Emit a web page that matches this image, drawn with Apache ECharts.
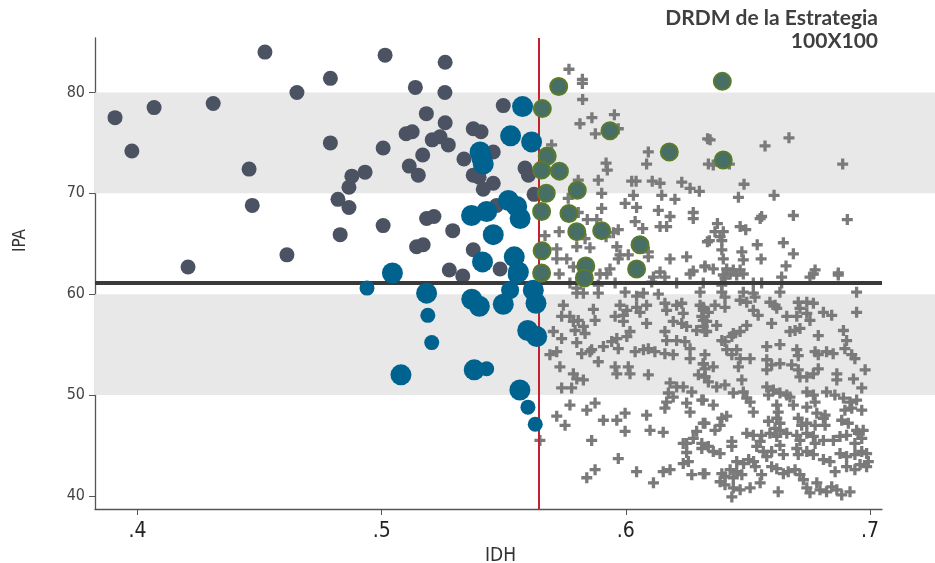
<!DOCTYPE html>
<html><head><meta charset="utf-8">
<script src="https://cdn.jsdelivr.net/npm/echarts@6/dist/echarts.min.js"></script>
<style>html,body{margin:0;padding:0;background:#fff}#c{width:935px;height:563px}</style>
</head><body><div id="c"></div>
<script>
const xTicks=[0.4,0.5,0.6,0.7];
const yTicks=[40,50,60,70,80];
const bands=[[50,60],[70,80]];
const meanIPA=61.1;
const cutIDH=0.5645;
const xRange=[0.3826,0.7049];
const yRange=[38.7,85.4];
const titleLines=['DRDM de la Estrategia','100X100'];

const darkPts=[[0.3908,77.5],[0.3977,74.2],[0.4068,78.5],[0.4207,62.7],[0.4310,78.9],[0.4457,72.4],[0.4470,68.8],[0.4522,84.0],[0.4612,63.9],[0.4653,80.0],[0.4790,81.4],[0.4790,75.0],[0.4821,69.4],[0.4830,65.9],[0.4878,71.7],[0.4932,72.1],[0.4866,70.6],[0.4866,68.6],[0.5006,74.5],[0.5014,83.7],[0.5006,66.8],[0.5138,80.5],[0.5259,80.0],[0.5260,83.0],[0.5498,78.7],[0.5183,77.9],[0.5260,77.0],[0.5100,75.9],[0.5125,76.1],[0.5207,75.3],[0.5239,75.6],[0.5273,74.8],[0.5375,76.4],[0.5407,76.1],[0.5168,73.8],[0.5337,73.4],[0.5457,74.1],[0.5113,72.7],[0.5150,71.8],[0.5375,71.8],[0.5399,71.6],[0.5457,71.0],[0.5416,70.4],[0.5587,72.5],[0.5601,71.8],[0.5624,69.9],[0.5471,68.8],[0.5184,67.5],[0.5214,67.7],[0.5291,66.3],[0.5143,64.7],[0.5170,64.9],[0.5375,64.4],[0.5277,62.4],[0.5332,61.8],[0.5485,62.5]];

const bluePts=[[0.5577,78.6,3],[0.5528,75.7,3],[0.5614,75.1,3],[0.5403,74.1,3],[0.5410,73.5,3],[0.5416,72.9,3],[0.5368,67.8,3],[0.5430,68.2,3],[0.5519,69.3,3],[0.5553,68.7,3],[0.5567,67.5,3],[0.5457,65.9,3],[0.5413,63.2,3],[0.5543,63.7,3],[0.5044,62.1,3],[0.5560,62.2,3],[0.5184,60.1,3],[0.5189,57.9,1],[0.5205,55.2,1],[0.5079,52.0,3],[0.5369,59.5,3],[0.5400,58.8,3],[0.5498,59.0,3],[0.5526,60.4,2],[0.5553,61.9,2],[0.5621,60.4,3],[0.5632,59.1,3],[0.5598,56.4,3],[0.5635,55.8,3],[0.5379,52.5,3],[0.5430,52.6,1],[0.5566,50.5,3],[0.5599,48.8,1],[0.5629,47.1,1],[0.4940,60.6,1]];

const greenPts=[[0.5725,80.6],[0.5658,78.4],[0.5935,76.2],[0.6178,74.1],[0.5678,73.7],[0.5655,72.3],[0.5728,72.2],[0.5801,70.3],[0.5674,70.0],[0.5655,68.2],[0.5767,68.0],[0.5799,66.2],[0.5901,66.3],[0.6058,64.9],[0.5657,64.3],[0.5836,62.8],[0.6044,62.5],[0.5655,62.1],[0.5830,61.6],[0.6395,81.1],[0.6399,73.3]];

const plusPts=[[0.5767,82.3],[0.5822,81.3],[0.5822,80.9],[0.5823,79.3],[0.5812,76.9],[0.5861,77.5],[0.5953,77.8],[0.5875,75.9],[0.5969,76.4],[0.5696,74.8],[0.6092,74.1],[0.6085,72.9],[0.6335,75.4],[0.5919,73.0],[0.5924,72.3],[0.6338,72.9],[0.5805,71.3],[0.5887,71.3],[0.6024,71.2],[0.6042,71.2],[0.6108,71.2],[0.6140,71.0],[0.6229,71.1],[0.6263,70.5],[0.6301,70.2],[0.5764,69.5],[0.5901,70.0],[0.6031,69.8],[0.6147,69.8],[0.6201,69.4],[0.5901,68.5],[0.5997,69.0],[0.6044,68.6],[0.6133,68.3],[0.6181,67.7],[0.6276,68.1],[0.6276,67.5],[0.5805,68.1],[0.5842,67.4],[0.5881,67.4],[0.6038,67.2],[0.6069,66.5],[0.6140,66.7],[0.6167,66.7],[0.5969,66.4],[0.5949,66.1],[0.5669,65.8],[0.5727,66.2],[0.5833,65.5],[0.5919,65.7],[0.5799,64.7],[0.5853,64.6],[0.5963,64.7],[0.5717,64.5],[0.6092,64.2],[0.6092,63.7],[0.5976,63.9],[0.6010,63.9],[0.5969,63.5],[0.6181,63.5],[0.6249,63.7],[0.6334,65.2],[0.5717,63.5],[0.5758,63.5],[0.5785,62.7],[0.5846,62.5],[0.5935,62.5],[0.6140,62.2],[0.6324,62.8],[0.6276,62.3],
[0.6345,75.3],[0.6570,74.7],[0.6668,75.5],[0.6888,72.9],[0.6358,72.8],[0.6424,72.9],[0.6484,70.9],[0.6461,69.6],[0.6607,69.8],[0.6556,67.7],[0.6550,67.5],[0.6686,67.8],[0.6907,67.4],[0.6375,67.0],[0.6365,66.2],[0.6399,66.2],[0.6386,65.7],[0.6468,66.7],[0.6491,66.4],[0.6342,65.3],[0.6393,65.3],[0.6538,64.9],[0.6645,65.1],[0.6475,64.2],[0.6686,64.0],[0.6393,64.4],[0.6399,63.5],[0.6481,63.4],[0.6554,63.5],[0.6656,62.8],[0.6324,62.7],[0.6358,62.5],[0.6413,62.5],[0.6440,62.4],[0.6468,62.4],[0.6775,62.4],[0.6870,62.1],
[0.5727,62.0],[0.5894,62.0],[0.5922,62.0],[0.6113,61.7],[0.6160,61.7],[0.6263,62.0],[0.5771,61.1],[0.5799,60.6],[0.5826,60.1],[0.5799,60.1],[0.5887,60.9],[0.5887,60.1],[0.5956,61.1],[0.5997,60.2],[0.6044,59.8],[0.6072,60.1],[0.6133,60.0],[0.6106,61.2],[0.6208,61.1],[0.6304,60.2],[0.6317,61.1],[0.5744,58.9],[0.5867,58.5],[0.5976,58.9],[0.6004,58.4],[0.5990,57.9],[0.6044,58.7],[0.6085,58.9],[0.6058,58.2],[0.6160,59.1],[0.6167,58.4],[0.6208,58.9],[0.6229,59.1],[0.6235,58.1],[0.6304,58.9],[0.6317,58.4],[0.5737,57.8],[0.5771,57.8],[0.5785,57.3],[0.5805,57.4],[0.5792,56.4],[0.5826,56.8],[0.5833,56.1],[0.5874,57.4],[0.5956,57.8],[0.5990,57.3],[0.6017,56.3],[0.6004,55.8],[0.6085,57.1],[0.6194,57.3],[0.6229,57.1],[0.6249,56.8],[0.6290,56.4],[0.6317,57.4],[0.6324,56.3],[0.5703,56.3],[0.5737,55.6],[0.5799,55.2],[0.5860,54.5],[0.5853,54.3],[0.5908,54.8],[0.5942,55.3],[0.5963,55.6],[0.5969,54.6],[0.6038,54.3],[0.6072,54.5],[0.6092,54.6],[0.6119,54.3],[0.6160,56.3],[0.6167,55.4],[0.6208,55.4],[0.6242,55.3],[0.6263,54.6],[0.6160,54.1],[0.6194,54.0],[0.6263,53.6],[0.5689,54.0],[0.5717,54.3],[0.5819,54.1],[0.5887,53.3],[0.6324,54.0],[0.6317,53.1],[0.5730,52.8],[0.5956,52.8],[0.5963,52.1],[0.6010,52.8],[0.6017,52.1],[0.6092,52.0],[0.5785,52.1],[0.5799,51.6],[0.5826,51.5],[0.5737,50.7],[0.5778,50.7],[0.6181,51.2],[0.6208,50.8],[0.6235,50.8],[0.6174,50.2],[0.6270,50.3],[0.6297,52.0],[0.6324,51.8],[0.6194,49.8],[0.6167,49.3],[0.6160,48.7],[0.6249,49.2],[0.6263,48.3],[0.6311,49.5],[0.5771,49.0],[0.5840,48.5],[0.5874,49.2],[0.5717,47.9],[0.5751,47.0],[0.5908,47.5],[0.5963,47.5],[0.5997,48.2],[0.6085,48.0],[0.5997,46.4],[0.6099,46.5],[0.6153,46.3],[0.6317,47.2],[0.6290,46.4],[0.6276,45.7],[0.6249,45.2],[0.6235,45.2],[0.6311,44.7],[0.5648,45.5],[0.5860,45.5],[0.6249,44.3],[0.6235,43.2],[0.6256,43.4],[0.5969,43.7],[0.5874,42.6],[0.5840,41.8],[0.6044,42.4],[0.6153,42.4],[0.6181,42.6],[0.6113,41.3],[0.6270,42.1],[0.6317,42.2],
[0.6399,61.9],[0.6427,62.0],[0.6454,61.9],[0.6481,62.0],[0.6406,61.6],[0.6638,61.7],[0.6768,62.0],[0.6754,61.7],[0.6870,61.9],[0.6393,60.9],[0.6522,61.1],[0.6556,61.1],[0.6638,61.1],[0.6393,60.2],[0.6406,59.7],[0.6481,60.2],[0.6522,60.1],[0.6529,59.7],[0.6631,60.2],[0.6945,60.2],[0.6468,59.4],[0.6495,59.2],[0.6590,59.2],[0.6611,58.9],[0.6706,59.2],[0.6741,59.2],[0.6768,59.1],[0.6713,58.6],[0.6317,58.7],[0.6338,58.2],[0.6311,57.8],[0.6331,57.3],[0.6365,58.9],[0.6406,58.7],[0.6522,58.4],[0.6542,57.9],[0.6618,58.6],[0.6659,57.8],[0.6700,57.8],[0.6741,58.1],[0.6754,57.4],[0.6809,58.2],[0.6843,57.9],[0.6945,58.2],[0.6317,56.8],[0.6331,56.3],[0.6372,56.9],[0.6440,56.1],[0.6468,56.3],[0.6495,56.9],[0.6597,57.1],[0.6672,56.3],[0.6693,56.4],[0.6713,56.6],[0.6788,55.9],[0.6891,56.4],[0.6904,55.4],[0.6393,55.4],[0.6406,55.3],[0.6434,55.8],[0.6413,54.5],[0.6454,54.5],[0.6434,54.0],[0.6577,54.8],[0.6631,55.0],[0.6700,54.5],[0.6706,53.9],[0.6775,54.3],[0.6788,54.0],[0.6822,54.3],[0.6849,54.1],[0.6897,54.6],[0.6925,54.0],[0.6938,53.6],[0.6317,53.1],[0.6358,52.8],[0.6324,52.6],[0.6468,53.6],[0.6509,53.6],[0.6461,52.8],[0.6577,53.5],[0.6597,53.0],[0.6631,53.1],[0.6679,53.0],[0.6577,52.5],[0.6706,52.5],[0.6713,51.8],[0.6741,51.8],[0.6768,52.1],[0.6788,52.6],[0.6864,52.1],[0.6864,51.5],[0.6932,51.6],[0.6980,52.5],[0.6324,51.8],[0.6338,51.3],[0.6372,50.8],[0.6406,51.0],[0.6475,51.5],[0.6440,50.2],[0.6481,50.3],[0.6495,49.7],[0.6509,49.3],[0.6577,50.8],[0.6604,50.5],[0.6584,50.0],[0.6631,50.2],[0.6659,50.0],[0.6672,49.8],[0.6741,50.3],[0.6768,50.0],[0.6775,49.3],[0.6741,48.8],[0.6822,50.3],[0.6856,50.0],[0.6891,49.7],[0.6918,49.3],[0.6945,49.5],[0.6966,50.7],[0.6317,49.5],[0.6358,49.0],[0.6522,48.3],[0.6618,49.0],[0.6624,48.3],[0.6686,49.0],[0.6782,48.2],[0.6816,48.0],[0.6897,48.5],[0.6925,48.7],[0.6966,48.5],[0.6324,47.2],[0.6393,47.7],[0.6413,47.9],[0.6386,47.0],[0.6365,46.5],[0.6584,47.4],[0.6618,47.7],[0.6631,47.2],[0.6611,46.7],[0.6631,46.5],[0.6706,47.7],[0.6720,47.0],[0.6741,47.2],[0.6775,47.0],[0.6809,47.7],[0.6816,47.0],[0.6884,47.5],[0.6911,47.2],[0.6945,46.5],[0.6972,46.5],[0.6495,46.2],[0.6522,46.0],[0.6556,46.0],[0.6590,46.2],[0.6618,45.9],[0.6550,45.4],[0.6659,46.2],[0.6700,46.0],[0.6713,45.5],[0.6741,46.2],[0.6768,45.9],[0.6775,45.2],[0.6809,45.5],[0.6850,45.5],[0.6877,45.9],[0.6904,46.0],[0.6938,45.2],[0.6966,45.7],[0.6952,46.2],[0.6311,45.2],[0.6338,44.9],[0.6358,44.4],[0.6386,44.2],[0.6434,45.4],[0.6434,44.9],[0.6536,44.9],[0.6563,44.4],[0.6577,43.9],[0.6597,44.4],[0.6631,45.0],[0.6645,44.1],[0.6700,44.7],[0.6706,44.1],[0.6741,44.4],[0.6768,44.1],[0.6809,43.6],[0.6836,43.4],[0.6877,44.2],[0.6904,43.9],[0.6938,44.1],[0.6966,44.4],[0.6986,44.2],[0.6454,43.4],[0.6482,43.2],[0.6503,43.6],[0.6523,43.4],[0.6530,42.9],[0.6324,42.2],[0.6393,42.2],[0.6406,41.9],[0.6427,42.6],[0.6440,41.8],[0.6454,42.4],[0.6475,42.1],[0.6386,41.4],[0.6406,41.1],[0.6440,40.8],[0.6434,39.9],[0.6468,40.6],[0.6509,40.8],[0.6550,41.3],[0.6556,42.1],[0.6597,42.9],[0.6618,42.7],[0.6645,42.2],[0.6665,42.4],[0.6693,42.6],[0.6713,42.1],[0.6624,40.4],[0.6727,41.6],[0.6741,40.8],[0.6754,40.3],[0.6782,41.3],[0.6795,40.6],[0.6822,40.4],[0.6843,40.9],[0.6864,40.6],[0.6884,40.1],[0.6918,40.4],[0.6857,42.4],[0.6904,42.9],[0.6938,42.6],[0.6959,43.1],[0.6986,42.9],[0.6993,43.4]];

const narrow='"Liberation Sans Narrow","DejaVu Sans Condensed","Arial Narrow",sans-serif';
const blueSize={1:15,2:18,3:21};
const plusPath='path://M3.5,0H6.5V3.5H10V6.5H6.5V10H3.5V6.5H0V3.5H3.5Z';
const titleFont={fontFamily:'Lato,"DejaVu Sans",sans-serif',fontWeight:'bold',fontSize:21,color:'#3f3f3f'};

const chart=echarts.init(document.getElementById('c'),null,{renderer:'canvas'});
chart.setOption({
  animation:false,
  backgroundColor:'#fff',
  title:titleLines.map((t,i)=>({text:t,right:57,top:8+i*23,padding:0,textStyle:titleFont})),
  grid:[
    {left:95,right:0,top:38,bottom:54,outerBoundsMode:'none',containLabel:false},
    {left:95,right:53,top:38,bottom:54,outerBoundsMode:'none',containLabel:false}
  ],
  xAxis:[
    {gridIndex:0,type:'value',min:xRange[0],max:xRange[1],show:false},
    {gridIndex:1,type:'value',min:xRange[0],max:xRange[1],
      name:'IDH',nameLocation:'middle',nameGap:33,
      nameTextStyle:{fontFamily:narrow,fontSize:19,color:'#333',padding:[0,0,0,24]},
      axisLine:{show:true,lineStyle:{color:'#555',width:1.3}},
      axisTick:{show:true,length:6,customValues:xTicks,lineStyle:{color:'#555'}},
      axisLabel:{customValues:xTicks,margin:12,fontFamily:narrow,fontSize:21,color:'#222',
        formatter:v=>String(+v.toFixed(1)).replace(/^0/,'')},
      splitLine:{show:false}}
  ],
  yAxis:[
    {gridIndex:0,type:'value',min:yRange[0],max:yRange[1],show:false},
    {gridIndex:1,type:'value',min:yRange[0],max:yRange[1],
      name:'IPA',nameLocation:'middle',nameGap:66,nameRotate:90,
      nameTextStyle:{fontFamily:narrow,fontSize:17,color:'#333',padding:[0,0,0,66]},
      axisLine:{show:true,lineStyle:{color:'#555',width:1.3}},
      axisTick:{show:true,length:6,customValues:yTicks,lineStyle:{color:'#555'}},
      axisLabel:{customValues:yTicks,margin:10,fontFamily:narrow,fontSize:16,color:'#444'},
      splitLine:{show:false}}
  ],
  series:[
    {type:'line',xAxisIndex:0,yAxisIndex:0,data:[],z:0,silent:true,
      markArea:{silent:true,itemStyle:{color:'#e8e8e8'},
        data:bands.map(b=>[{yAxis:b[0]},{yAxis:b[1]}])}},
    {type:'line',xAxisIndex:1,yAxisIndex:1,data:[],z:1,silent:true,
      markLine:{silent:true,precision:4,symbol:['none','none'],label:{show:false},
        data:[
          {yAxis:meanIPA,lineStyle:{color:'#3a3a3a',width:4,type:'solid'}},
          {xAxis:cutIDH,lineStyle:{color:'#c4202f',width:2,type:'solid'}}
        ]}},
    {type:'scatter',xAxisIndex:1,yAxisIndex:1,z:3,data:plusPts,symbol:plusPath,symbolSize:11,
      itemStyle:{color:'#7a7a7a',opacity:1}},
    {type:'scatter',xAxisIndex:1,yAxisIndex:1,z:4,data:darkPts,symbol:'circle',symbolSize:15,
      itemStyle:{color:'#4b5262',opacity:1}},
    {type:'scatter',xAxisIndex:1,yAxisIndex:1,z:5,data:bluePts,symbol:'circle',
      symbolSize:d=>blueSize[d[2]],itemStyle:{color:'#00638f',opacity:1}},
    {type:'scatter',xAxisIndex:1,yAxisIndex:1,z:6,data:greenPts,symbol:'circle',symbolSize:17,
      itemStyle:{color:'#476f66',borderColor:'#5b7b28',borderWidth:2,opacity:1}}
  ]
});
</script>
</body></html>
